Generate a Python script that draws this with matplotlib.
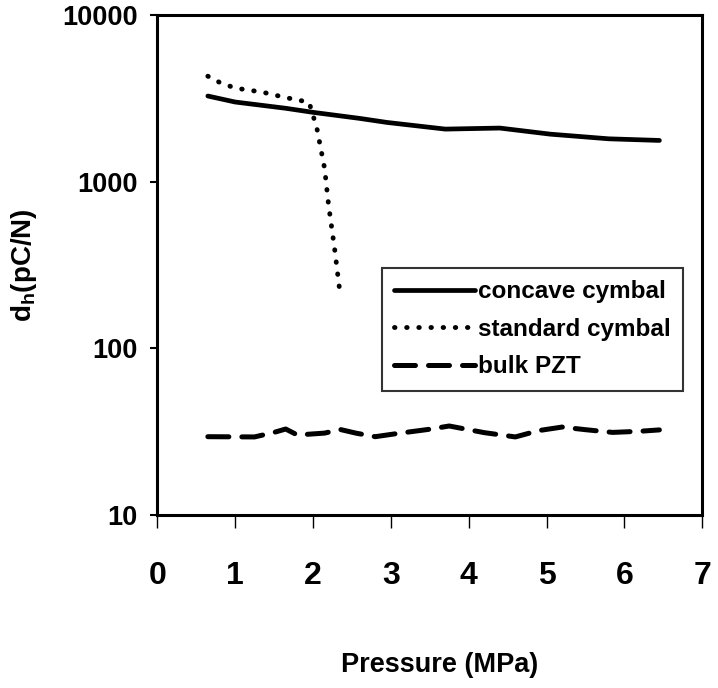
# coding:utf8
import numpy as np
import matplotlib
matplotlib.use("Agg")
import matplotlib.pyplot as plt
from matplotlib import rcParams

rcParams['font.family'] = ['Liberation Sans', 'DejaVu Sans']
rcParams['font.weight'] = 'bold'
rcParams['mathtext.default'] = 'regular'

# values
p_concave = [0.65, 1.0, 1.65, 2.0, 2.6, 2.95, 3.7, 4.4, 5.05, 5.8, 6.45]
d_concave = [3270, 3010, 2760, 2610, 2400, 2270, 2070, 2100, 1930, 1810, 1770]

p_standard = [0.65, 0.8, 1.0, 1.35, 1.65, 1.95, 2.05, 2.15, 2.2, 2.28, 2.35]
d_standard = [4300, 3950, 3650, 3450, 3200, 3000, 2100, 1200, 730, 390, 210]

p_bulk = [0.65, 1.25, 1.5, 1.65, 1.8, 2.15, 2.35, 2.55, 2.8, 3.1, 3.5, 3.75,
          4.2, 4.6, 4.9, 5.2, 5.5, 5.85, 6.2, 6.45]
d_bulk = [29.5, 29.4, 31.3, 32.8, 30.2, 31.0, 32.6, 31.0, 29.5, 30.9, 32.7, 34.2,
          31.2, 29.4, 32.1, 33.7, 32.5, 31.3, 31.8, 32.4]

x_ticks = [0, 1, 2, 3, 4, 5, 6, 7]
y_ticks = [10, 100, 1000, 10000]

fig = plt.figure(figsize=(7.18, 6.88), dpi=100)
ax = fig.add_axes([0.219, 0.2515, 0.759, 0.7265])

ax.plot(p_concave, d_concave, color='black', lw=3.4, ls='-',
        solid_capstyle='round', label='concave cymbal')
ax.plot(p_standard, d_standard, color='black', lw=3.5, ls=(0, (0.1, 2.4)),
        dash_capstyle='round', label='standard cymbal')
ax.plot(p_bulk, d_bulk, color='black', lw=3.6, ls=(0, (4.2, 2.6)),
        dash_capstyle='round', label='bulk PZT')

ax.set_yscale('log')
ax.set_xlim(0, 7)
ax.set_ylim(10, 10000)
ax.set_xticks(x_ticks)
ax.set_xticklabels([str(v) for v in x_ticks])
ax.set_yticks(y_ticks)
ax.set_yticklabels([str(v) for v in y_ticks])
ax.minorticks_off()

for s in ax.spines.values():
    s.set_linewidth(2.2)

ax.tick_params(axis='x', direction='out', length=9, width=1.0, pad=24,
               labelsize=23)
ax.tick_params(axis='y', direction='out', length=5, width=1.5, pad=9,
               labelsize=19.5)

leg = ax.legend(loc='upper right', bbox_to_anchor=(0.965, 0.494),
                borderaxespad=0, frameon=True, fancybox=False,
                handlelength=3.3, handletextpad=0.15, labelspacing=0.6,
                borderpad=0.5, prop={'size': 17.5, 'weight': 'bold'})
leg.get_frame().set_edgecolor('black')
leg.get_frame().set_linewidth(1.5)

fig.text(440/718, 1 - 665/688, 'Pressure (MPa)', ha='center', va='center',
         fontsize=19.5, fontweight='bold')
fig.text(24/718, 1 - 265/688, r'd$_h$(pC/N)', ha='center', va='center',
         rotation=90, fontsize=20, fontweight='bold')

fig.savefig('out.png', dpi=100)
